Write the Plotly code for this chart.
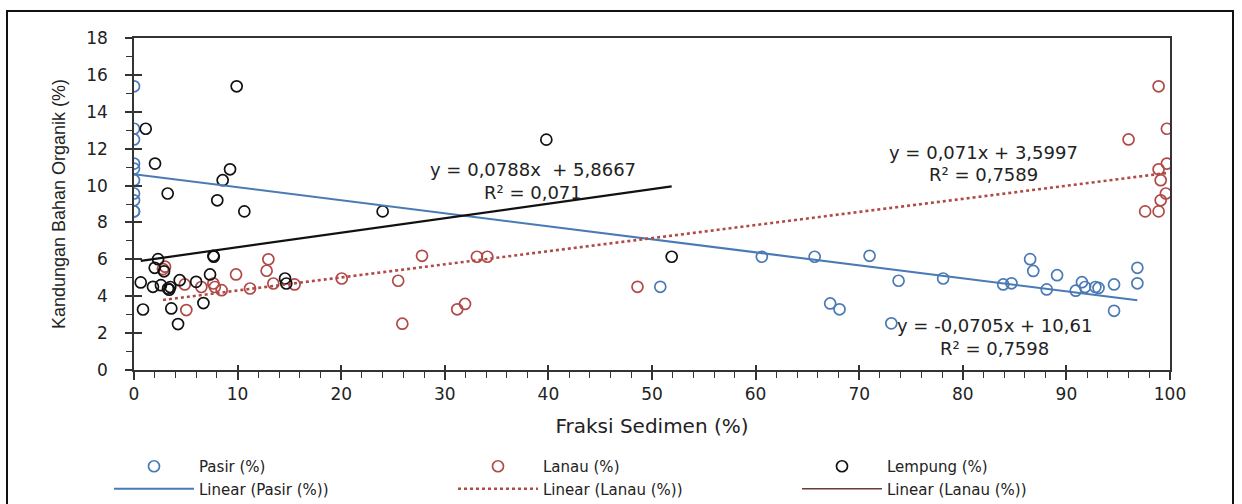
import plotly.graph_objects as go

# ---------------- data ----------------
pasir_x = [0, 0, 0, 0, 0, 0, 0, 0, 0, 0,
           50.8, 60.6, 65.7, 67.2, 68.1, 71.0, 73.1, 73.8, 78.1, 83.9, 84.7,
           86.5, 86.8, 88.1, 89.1, 90.9, 91.5, 91.8, 92.8, 93.1, 94.6, 94.6,
           96.85, 96.85]
pasir_y = [15.38, 13.08, 12.50, 11.19, 10.92, 10.29, 9.57, 9.20, 8.60, 8.60,
           4.51, 6.14, 6.14, 3.61, 3.29, 6.19, 2.53, 4.84, 4.96, 4.64, 4.70,
           6.01, 5.37, 4.37, 5.14, 4.30, 4.76, 4.50, 4.50, 4.45, 4.64, 3.21,
           5.54, 4.70]

lanau_x = [98.9, 99.7, 96.0, 99.7, 98.9, 99.1, 99.6, 99.1, 97.6, 98.9,
           2.8, 3.0, 4.9, 5.05, 6.5, 7.66, 7.8, 8.46, 9.85, 11.2, 12.8, 12.97,
           13.45, 15.5, 20.05, 25.5, 25.9, 27.8, 31.2, 31.95, 33.1, 34.1, 48.6]
lanau_y = [15.38, 13.08, 12.50, 11.19, 10.88, 10.29, 9.57, 9.20, 8.60, 8.60,
           5.47, 5.60, 4.64, 3.25, 4.50, 4.69, 4.50, 4.33, 5.18, 4.42, 5.38, 6.00,
           4.69, 4.64, 4.96, 4.84, 2.51, 6.19, 3.29, 3.58, 6.14, 6.14, 4.51]

lempung_x = [9.91, 1.13, 39.8, 2.03, 9.27, 8.56, 3.25, 8.04, 10.65, 24.0,
             7.66, 7.7, 2.32, 2.0, 2.9, 0.65, 1.83, 2.6, 3.28, 3.4, 3.5,
             4.41, 6.0, 7.34, 14.58, 14.7, 0.87, 3.6, 6.7, 4.25, 51.9]
lempung_y = [15.38, 13.08, 12.49, 11.19, 10.88, 10.29, 9.57, 9.20, 8.60, 8.60,
             6.19, 6.14, 6.01, 5.54, 5.35, 4.75, 4.51, 4.60, 4.42, 4.35, 4.50,
             4.87, 4.78, 5.18, 4.96, 4.69, 3.28, 3.34, 3.63, 2.49, 6.14]

# trendline equations printed on the chart (slope, intercept)
pasir_fit = (-0.0705, 10.61)
lanau_fit = (0.071, 3.5997)
lempung_fit = (0.0788, 5.8667)

series_names = ["Pasir (%)", "Lanau (%)", "Lempung (%)"]
trend_names = ["Linear (Pasir (%))", "Linear (Lanau (%))", "Linear (Lanau (%))"]
eq_texts = ["y = -0,0705x + 10,61", "y = 0,071x + 3,5997", "y = 0,0788x  + 5,8667"]
r2_texts = ["R² = 0,7598", "R² = 0,7589", "R² = 0,071"]

x_ticks = list(range(0, 101, 10))
y_ticks = list(range(0, 19, 2))

# ---------------- styles ----------------
C_BLUE = "#4a7ab5"
C_RED = "#b04a47"
C_BLACK = "#111111"
C_AX = "#333333"
TXT = "#222222"


def trend(xs, fit):
    lo, hi = min(xs), max(xs)
    return [lo, hi], [fit[0] * lo + fit[1], fit[0] * hi + fit[1]]


fig = go.Figure()

for xs, ys, name, col in [(pasir_x, pasir_y, series_names[0], C_BLUE),
                          (lanau_x, lanau_y, series_names[1], C_RED),
                          (lempung_x, lempung_y, series_names[2], C_BLACK)]:
    fig.add_trace(go.Scatter(
        x=xs, y=ys, mode="markers", name=name,
        marker=dict(symbol="circle-open", size=11, color=col,
                    line=dict(width=1.7, color=col)),
    ))

tx, ty = trend(pasir_x, pasir_fit)
fig.add_trace(go.Scatter(x=tx, y=ty, mode="lines", name=trend_names[0],
                         line=dict(color=C_BLUE, width=2)))
tx, ty = trend(lanau_x, lanau_fit)
fig.add_trace(go.Scatter(x=tx, y=ty, mode="lines", name=trend_names[1],
                         line=dict(color=C_RED, width=2.6, dash="dot")))
tx, ty = trend(lempung_x, lempung_fit)
fig.add_trace(go.Scatter(x=tx, y=ty, mode="lines", name=trend_names[2],
                         showlegend=False,
                         line=dict(color=C_BLACK, width=2.2)))
# legend entry as it appears in the reference (thin brownish line)
fig.add_trace(go.Scatter(x=[None], y=[None], mode="lines", name=trend_names[2],
                         line=dict(color="#6b3a3a", width=1.3)))

# equations
eq_pos = [(83.1, 2.44, 1.19), (82.0, 11.8, 10.61), (38.5, 10.88, 9.64)]
annots = []
for (ax_, ey, ry), et, rt in zip(eq_pos, eq_texts, r2_texts):
    annots.append(dict(x=ax_, y=ey, xref="x", yref="y", text=et, showarrow=False,
                       font=dict(family="DejaVu Sans", size=18, color=TXT)))
    annots.append(dict(x=ax_, y=ry, xref="x", yref="y", text=rt, showarrow=False,
                       font=dict(family="DejaVu Sans", size=18, color=TXT)))

# plot area: left 134, right 1170, top 38, bottom 370  (1242 x 504)
L, R, T, B = 134, 1170, 38, 370
PW, PH = R - L, B - T


def px(xp):
    return (xp - L) / PW


def py(yp):
    return (B - yp) / PH


fig.update_layout(
    width=1242, height=504,
    margin=dict(l=L, r=1242 - R, t=T, b=504 - B, autoexpand=False),
    paper_bgcolor="white", plot_bgcolor="white",
    font=dict(family="DejaVu Sans", color=TXT),
    showlegend=True,
    legend=dict(orientation="h", x=px(109), y=py(450), xanchor="left", yanchor="top",
                entrywidth=249, entrywidthmode="pixels", itemwidth=80,
                traceorder="normal", tracegroupgap=0,
                font=dict(family="DejaVu Sans", size=15, color=TXT),
                bgcolor="rgba(0,0,0,0)"),
    annotations=annots,
    shapes=[dict(type="rect", xref="paper", yref="paper",
                 x0=px(7), x1=px(1233), y0=py(512), y1=py(11),
                 line=dict(color="#111111", width=2), fillcolor="rgba(0,0,0,0)",
                 layer="below")],
    xaxis=dict(range=[0, 100], tickvals=x_ticks, ticks="outside", ticklen=8,
               tickwidth=1.5, tickcolor=C_AX, showline=True, linecolor=C_AX,
               linewidth=1.5, mirror=True, showgrid=False, zeroline=False,
               automargin=False,
               minor=dict(dtick=2, ticks="outside", ticklen=6, tickwidth=1.2,
                          tickcolor=C_AX, showgrid=False),
               tickfont=dict(family="DejaVu Sans", size=17, color=TXT),
               title=dict(text="Fraksi Sedimen (%)", standoff=16,
                          font=dict(family="DejaVu Sans", size=20, color=TXT))),
    yaxis=dict(range=[0, 18], tickvals=y_ticks, ticks="outside", ticklen=7,
               tickwidth=1.5, tickcolor=C_AX, showline=True, linecolor=C_AX,
               linewidth=1.5, mirror=True, showgrid=False, zeroline=False,
               automargin=False,
               minor=dict(dtick=1, ticks="outside", ticklen=6, tickwidth=1.2,
                          tickcolor=C_AX, showgrid=False),
               ticklabelstandoff=14,
               tickfont=dict(family="DejaVu Sans", size=17, color=TXT),
               title=dict(text="Kandungan Bahan Organik (%)", standoff=16,
                          font=dict(family="Liberation Sans, Arial, sans-serif",
                                    size=18, color=TXT))),
    xaxis2=dict(overlaying="x", matches="x", range=[0, 100], tickvals=x_ticks,
                ticks="inside", ticklen=5, tickwidth=1.5, tickcolor=C_AX,
                automargin=False,
                showticklabels=False, showline=False, showgrid=False, zeroline=False),
    yaxis2=dict(overlaying="y", matches="y", range=[0, 18], tickvals=y_ticks,
                ticks="inside", ticklen=8, tickwidth=1.5, tickcolor=C_AX,
                automargin=False,
                showticklabels=False, showline=False, showgrid=False, zeroline=False),
)

# invisible anchor trace so the overlay tick axes are drawn
fig.add_trace(go.Scatter(x=[None], y=[None], xaxis="x2", yaxis="y2",
                         showlegend=False, hoverinfo="skip"))

fig.write_html("out.html",
               config={"displayModeBar": False},
               post_script="document.body.style.margin='0';document.body.style.padding='0';")
